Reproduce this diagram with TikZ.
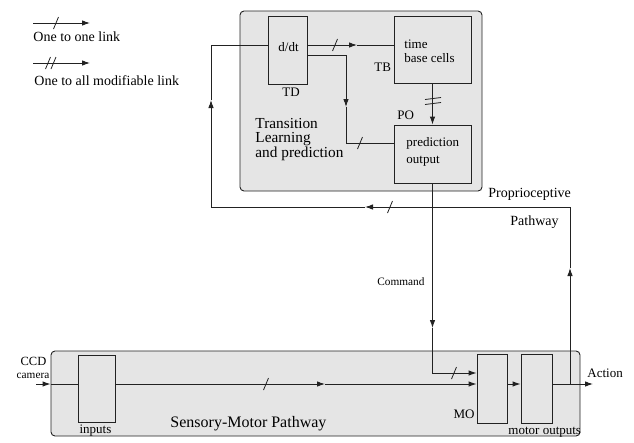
\documentclass[tikz,border=0pt]{standalone}
\usepackage{fontspec}
\setmainfont{Liberation Serif}
\usetikzlibrary{arrows.meta,calc}
\definecolor{panelgray}{HTML}{E5E5E5}
\definecolor{linecol}{HTML}{222222}
\begin{document}
\begin{tikzpicture}[x=1pt,y=-1pt,
  line width=0.9pt, draw=linecol,
  ar/.style={-{Latex[length=8pt,width=5.5pt]}},
  panel/.style={draw=linecol, fill=panelgray, rounded corners=4pt, rectangle, inner sep=0pt},
  blk/.style={draw=linecol, fill=panelgray, rectangle, inner sep=0pt},
  lbl/.style={inner sep=0pt, font=\fontsize{13}{15}\selectfont},
  biglbl/.style={inner sep=0pt, font=\fontsize{15.3}{14.5}\selectfont, align=left},
  leglbl/.style={inner sep=0pt, font=\fontsize{14}{16}\selectfont},
  smalllbl/.style={inner sep=0pt, font=\fontsize{11.3}{13}\selectfont},
  slashmark/.style={line width=0.8pt}
]
\useasboundingbox (0,0) rectangle (634,442);

% ---------- legend ----------
\coordinate (l1a) at (33,23);
\coordinate (l1b) at (90,23);
\draw[ar] (l1a) -- (l1b);
\draw[slashmark] (56,23) +(-2.5,6) -- +(2.5,-6);
\node[leglbl, anchor=base west] (leg1) at (33,41.5) {One to one link};
\coordinate (l2a) at (33,63);
\coordinate (l2b) at (90,63);
\draw[ar] (l2a) -- (l2b);
\draw[slashmark] (48,63) +(-2.5,6) -- +(2.5,-6);
\draw[slashmark] (53.5,63) +(-2.5,6) -- +(2.5,-6);
\node[leglbl, anchor=base west] (leg2) at (34,85.5) {One to all modifiable link};

% ---------- panels ----------
\node[panel, minimum width=242pt, minimum height=180pt] (tl) at (361,101) {};
\node[panel, minimum width=529pt, minimum height=85pt] (sm) at (315.5,393.5) {};

% ---------- blocks ----------
\node[blk, minimum width=39pt, minimum height=68pt] (td) at (287.5,50) {};
\node[blk, minimum width=77pt, minimum height=67pt] (tb) at (432.5,49.5) {};
\node[blk, minimum width=77pt, minimum height=58pt] (po) at (432.5,154) {};
\node[blk, minimum width=37pt, minimum height=67pt] (inputs) at (96.5,388.5) {};
\node[blk, minimum width=30pt, minimum height=69pt] (mo) at (492,388.5) {};
\node[blk, minimum width=31pt, minimum height=69pt] (motor) at (536.5,388.5) {};

% ---------- texts ----------
\node[lbl, anchor=base west] (tddt) at (278,51) {d/dt};
\node[lbl, anchor=base west] (tdname) at (282,96) {TD};
\node[lbl, anchor=base west] (tbt1) at (404,48) {time};
\node[lbl, anchor=base west] (tbt2) at (404,62) {base cells};
\node[lbl, anchor=base west] (tbname) at (374,71) {TB};
\node[lbl, anchor=base west] (poname) at (397,119) {PO};
\node[lbl, anchor=base west] (pot1) at (406,146) {prediction};
\node[lbl, anchor=base west] (pot2) at (406,163) {output};
\node[biglbl, anchor=base west] (tlt1) at (255,128) {Transition};
\node[biglbl, anchor=base west] (tlt2) at (255,142.5) {Learning};
\node[biglbl, anchor=base west] (tlt3) at (255,157) {and prediction};
\node[leglbl, anchor=base west] (prop1) at (488,197) {Proprioceptive};
\node[leglbl, anchor=base west] (prop2) at (510,225) {Pathway};
\node[smalllbl, anchor=base west] (cmd) at (377,285) {Command};
\node[inner sep=0pt, font=\fontsize{12.5}{14}\selectfont, anchor=base] (ccd1) at (33.5,365.5) {CCD};
\node[smalllbl, anchor=base] (ccd2) at (33,378) {camera};
\node[lbl, anchor=base] (inname) at (95.5,433) {inputs};
\node[inner sep=0pt, font=\fontsize{16}{18}\selectfont, anchor=base west] (smt) at (170,427) {Sensory-Motor Pathway};
\node[lbl, anchor=base east] (moname) at (475,418) {MO};
\node[lbl, anchor=base west] (motname) at (508,434) {motor outputs};
\node[lbl, anchor=base west] (actname) at (587,377) {Action};

% ---------- connectors ----------
% d/dt -> time base cells
\draw[ar] (td.east |- 0,45) -- (357,45);
\draw (357,45) -- (tb.west |- 0,45);
\draw[slashmark] (335,45) +(-2.5,6) -- +(2.5,-6);

% d/dt -> prediction output
\draw[ar] (td.east |- 0,55) -- (346,55) -- (346,107);
\draw (346,107) -- (346,143) -- (po.west |- 0,143);
\draw[slashmark] (360,143) +(-2.5,6) -- +(2.5,-6);

% time base cells -> prediction output
\draw[ar] (tb.south) -- (po.north);
\draw[slashmark] (425,99.5) -- (441,97.5);
\draw[slashmark] (425,104.5) -- (441,102.5);

% Command
\draw[ar] (po.south) -- (432.5,328);
\draw[ar] (432.5,328) -- (432.5,373) -- (mo.west |- 0,373);
\draw[slashmark] (454,373) +(-2.5,6) -- +(2.5,-6);

% sensory-motor main line
\coordinate (cam) at (36,384);
\draw[ar] (cam) -- (sm.west |- 0,384);
\draw (sm.west |- 0,384) -- (inputs.west |- 0,384);
\draw[ar] (inputs.east |- 0,384) -- (325,384);
\draw[ar] (325,384) -- (mo.west |- 0,384);
\draw[slashmark] (266,384) +(-2.5,6) -- +(2.5,-6);
\draw[ar] (mo.east |- 0,384) -- (motor.west |- 0,384);
\coordinate (act) at (593,384);
\draw[ar] (motor.east |- 0,384) -- (act);

% proprioceptive loop
\coordinate (pj) at (570,384);
\draw[ar] (pj) -- (570,268);
\draw[ar] (570,268) -- (570,207) -- (365,207);
\draw[ar] (365,207) -- (211,207) -- (211,100);
\draw (211,100) -- (211,45) -- (td.west |- 0,45);
\draw[slashmark] (390,207) +(-2.5,6) -- +(2.5,-6);
\end{tikzpicture}
\end{document}
